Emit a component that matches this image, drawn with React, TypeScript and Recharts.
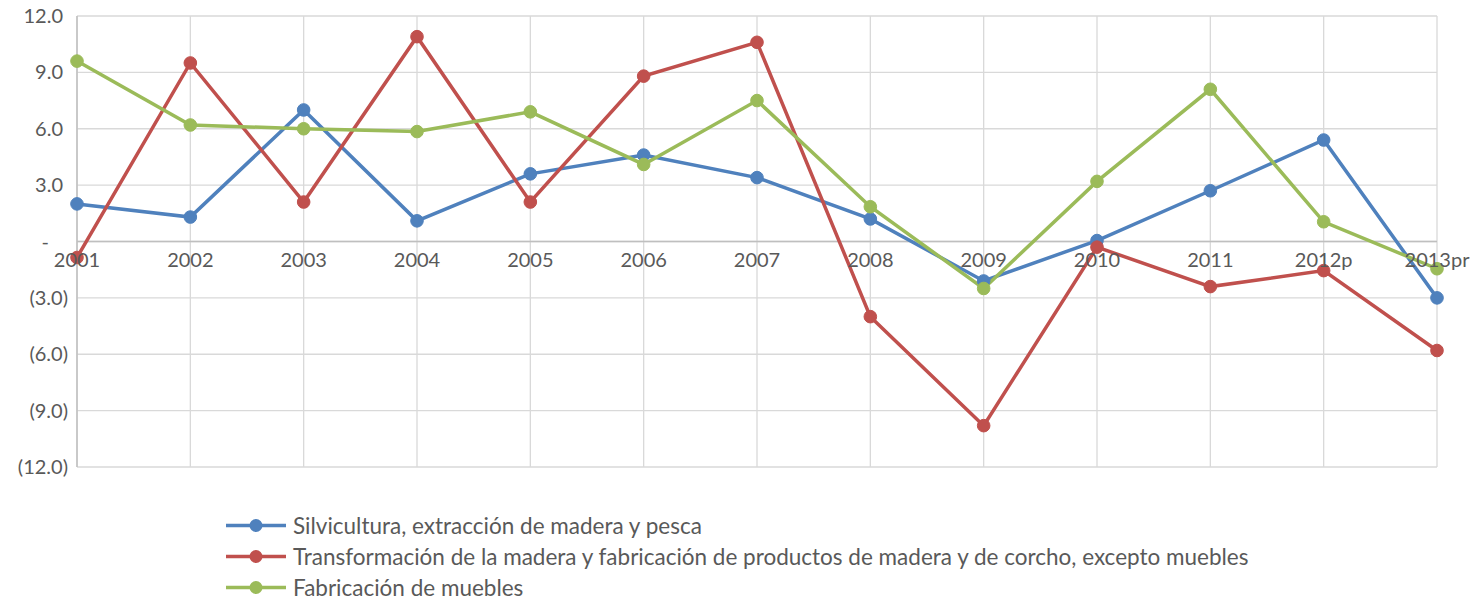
import {
  LineChart,
  Line,
  XAxis,
  YAxis,
  CartesianGrid,
  ReferenceLine,
  Legend,
} from "recharts";

const years = ["2001", "2002", "2003", "2004", "2005", "2006", "2007", "2008", "2009", "2010", "2011", "2012p", "2013pr"];
const silvicultura = [2.0, 1.3, 7.0, 1.1, 3.6, 4.6, 3.4, 1.2, -2.1, 0.05, 2.7, 5.4, -3.0];
const transformacion = [-0.85, 9.5, 2.1, 10.9, 2.1, 8.8, 10.6, -4.0, -9.8, -0.3, -2.4, -1.55, -5.8];
const muebles = [9.6, 6.2, 6.0, 5.85, 6.9, 4.1, 7.5, 1.85, -2.5, 3.2, 8.1, 1.05, -1.45];
const yTicks = [-12, -9, -6, -3, 0, 3, 6, 9, 12];

const series = [
  { key: "silvicultura", label: "Silvicultura, extracción de madera y pesca", color: "#4f81bd" },
  { key: "transformacion", label: "Transformación de la madera y fabricación de productos de madera y de corcho, excepto muebles", color: "#c0504d" },
  { key: "muebles", label: "Fabricación de muebles", color: "#9bbb59" },
];

const data = years.map((year, i) => ({
  year,
  silvicultura: silvicultura[i],
  transformacion: transformacion[i],
  muebles: muebles[i],
}));

// layout
const W = 1480;
const H = 600;
const PLOT_LEFT = 77;
const PLOT_TOP = 16;
const PLOT_RIGHT = 1437;
const PLOT_BOTTOM = 467;
const X_AXIS_H = 20;
const LEGEND_H = 93;
const ZERO_Y = (PLOT_TOP + PLOT_BOTTOM) / 2;
const FONT = "Lato, 'Open Sans', sans-serif";
const TEXT = "#595959";

const fmt = (v: number) => {
  if (v === 0) return "-";
  if (v < 0) return `(${Math.abs(v).toFixed(1)})`;
  return v.toFixed(1);
};

function XTick(props: any) {
  const { x, payload } = props;
  return (
    <text x={x} y={ZERO_Y + 25} textAnchor="middle" fill={TEXT} fontSize={20} fontFamily={FONT}>
      {payload.value}
    </text>
  );
}

function YTick(props: any) {
  const { y, payload } = props;
  const v = payload.value as number;
  const right = v < 0 ? PLOT_LEFT - 9 : v === 0 ? PLOT_LEFT - 28 : PLOT_LEFT - 14;
  return (
    <text x={right} y={y} dy="0.35em" textAnchor="end" fill={TEXT} fontSize={20} fontFamily={FONT}>
      {fmt(v)}
    </text>
  );
}

function LegendBox() {
  return (
    <div style={{ fontFamily: FONT, fontSize: 22.5, color: TEXT }}>
      {series.map((s) => (
        <div key={s.key} style={{ display: "flex", alignItems: "center", height: 31 }}>
          <svg width={62} height={31}>
            <line x1={0} y1={15.5} x2={60} y2={15.5} stroke={s.color} strokeWidth={3.5} />
            <circle cx={30} cy={15.5} r={6.5} fill={s.color} />
          </svg>
          <span style={{ marginLeft: 5, whiteSpace: "nowrap" }}>{s.label}</span>
        </div>
      ))}
    </div>
  );
}

export default function App() {
  return (
    <div style={{ position: "absolute", left: 0, top: 0, width: W, height: H, background: "#fff" }}>
      <LineChart
        width={W}
        height={H}
        data={data}
        margin={{ top: PLOT_TOP, right: W - PLOT_RIGHT, left: 0, bottom: H - PLOT_BOTTOM - X_AXIS_H - LEGEND_H }}
      >
        <CartesianGrid stroke="#d9d9d9" strokeWidth={1.3} />
        <XAxis
          dataKey="year"
          height={X_AXIS_H}
          axisLine={false}
          tickLine={false}
          interval={0}
          tick={<XTick />}
        />
        <YAxis
          width={PLOT_LEFT}
          domain={[-12, 12]}
          ticks={yTicks}
          axisLine={{ stroke: "#bfbfbf", strokeWidth: 1.5 }}
          tickLine={false}
          tick={<YTick />}
        />
        <ReferenceLine y={0} stroke="#bfbfbf" strokeWidth={1.5} />
        {series.map((s) => (
          <Line
            key={s.key}
            type="linear"
            dataKey={s.key}
            name={s.label}
            stroke={s.color}
            strokeWidth={3.5}
            dot={{ r: 6.3, fill: s.color, stroke: s.color, strokeWidth: 1 }}
            isAnimationActive={false}
          />
        ))}
        <Legend
          verticalAlign="bottom"
          align="left"
          wrapperStyle={{ left: 226, top: 510, bottom: "auto", height: LEGEND_H }}
          content={() => <LegendBox />}
        />
      </LineChart>
    </div>
  );
}
